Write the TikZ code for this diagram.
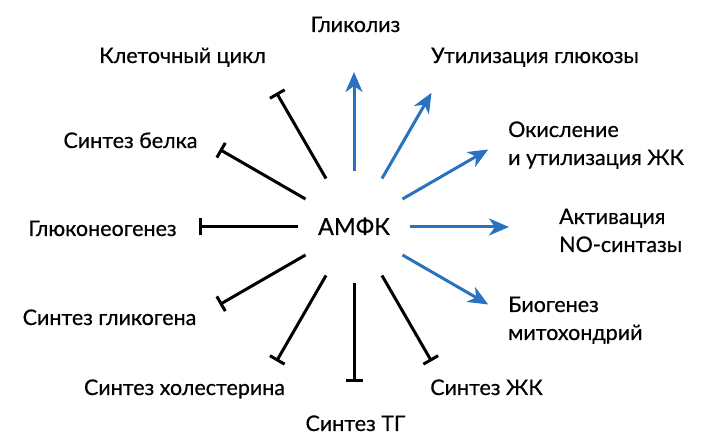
\documentclass[tikz,border=0pt]{standalone}
\usepackage{fontspec}
\setmainfont{Lato}[FakeBold=0.5]
\usetikzlibrary{arrows.meta,calc}
\definecolor{actblue}{RGB}{40,114,192}
\begin{document}
\begin{tikzpicture}[x=1pt,y=1pt,
  lbl/.style={inner sep=0pt,font=\fontsize{21.5pt}{28pt}\selectfont},
  spoke/.style={line width=3pt,shorten <=56pt},
  act/.style={spoke,draw=actblue,-{Stealth[length=20pt,width=17pt,inset=6pt]}},
  inh/.style={spoke,draw=black,-{Bar[width=17pt]}}]
\useasboundingbox (0,0) rectangle (702,436);
\node[lbl,font=\fontsize{23.5pt}{26pt}\selectfont,text height=16pt,text depth=0pt] (amfk) at (354,209) {АМФК};
% labels
\node[lbl,anchor=base] (glyc) at (355.5,404) {Гликолиз};
\node[lbl,anchor=base] (cell) at (182.5,373) {Клеточный цикл};
\node[lbl,anchor=base] (gluc) at (535,373) {Утилизация глюкозы};
\node[lbl,anchor=base] (prot) at (130.5,288) {Синтез белка};
\node[lbl,anchor=base west,align=left] (oxid) at (508,271) {Окисление\\и утилизация ЖК};
\node[lbl,anchor=base] (gng) at (102.5,200) {Глюконеогенез};
\node[lbl,anchor=base west,align=left] (nos) at (559,184) {Активация\\NO-синтазы};
\node[lbl,anchor=base] (glyg) at (109.5,111) {Синтез гликогена};
\node[lbl,anchor=base west,align=left] (mito) at (508,96) {Биогенез\\митохондрий};
\node[lbl,anchor=base] (chol) at (184.5,41) {Синтез холестерина};
\node[lbl,anchor=base] (fa) at (486.5,41) {Синтез ЖК};
\node[lbl,anchor=base] (tg) at (355.5,5) {Синтез ТГ};
% spoke ends
\foreach \n/\a in {e90/90,e60/60,e30/30,e0/0,em30/-30,em60/-60,em90/-90,em120/-120,em150/-150,e180/180,e150/150,e120/120}
  \coordinate (\n) at ($(amfk.center)+(\a:155)$);
% activating
\draw[act] (amfk.center) -- (e90);
\draw[act] (amfk.center) -- (e60);
\draw[act] (amfk.center) -- (e30);
\draw[act] (amfk.center) -- (e0);
\draw[act] (amfk.center) -- (em30);
% inhibiting
\draw[inh] (amfk.center) -- (em60);
\draw[inh] (amfk.center) -- (em90);
\draw[inh] (amfk.center) -- (em120);
\draw[inh] (amfk.center) -- (em150);
\draw[inh] (amfk.center) -- (e180);
\draw[inh] (amfk.center) -- (e150);
\draw[inh] (amfk.center) -- (e120);
\end{tikzpicture}
\end{document}
